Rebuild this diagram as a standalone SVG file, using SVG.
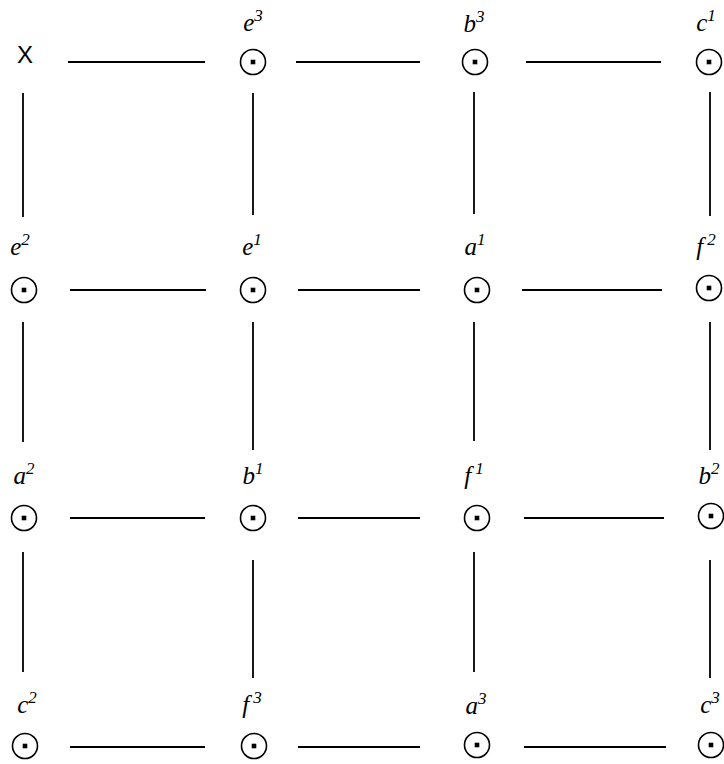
<svg xmlns="http://www.w3.org/2000/svg" width="724" height="764" viewBox="0 0 724 764">
<style>
.c{fill:none;stroke:#000;stroke-width:1.6}
.d{fill:#000}
.l{font-family:'Liberation Serif', 'Times New Roman', 'DejaVu Serif', serif;font-style:italic;font-size:25px;fill:#000;text-anchor:middle}
.s{font-size:17px}
.e{stroke:#000;stroke-width:1.8;fill:none}
.x{font-family:'Liberation Sans', Arial, sans-serif;font-size:24px;fill:#000;text-anchor:middle}
</style>
<defs>
<g id="sym"><circle class="c" r="12.5"/><rect class="d" x="-2.3" y="-2.3" width="4.6" height="4.6"/></g>
</defs>
<rect width="724" height="764" fill="#fff"/>
<g id="connectors">
<path class="e" d="M68 62H205M296 62H420M526 62H661M70 290H206M298 290H420M522 290H662M70 518H205M298 518H420M524 518H664M70 747H205M298 747H420M524 747H666"/>
<path class="e" d="M23 93V217M253 93V215M474 92V214M710 92V216M23 322V442M253 322V450M474 322V441M710 322V450M23 552V672M253 560V678M474 552V672M710 560V678"/>
</g>
<g id="nX"><text class="x" x="25" y="63">X</text></g>
<g id="n-e3"><use href="#sym" x="253" y="62"/><text class="l" x="253" y="31">e<tspan class="s" dy="-10">3</tspan></text></g>
<g id="n-b3"><use href="#sym" x="475" y="62"/><text class="l" x="474" y="32">b<tspan class="s" dy="-10">3</tspan></text></g>
<g id="n-c1"><use href="#sym" x="709" y="62"/><text class="l" x="706" y="31">c<tspan class="s" dy="-10">1</tspan></text></g>
<g id="n-e2"><use href="#sym" x="24" y="290"/><text class="l" x="20" y="255">e<tspan class="s" dy="-10">2</tspan></text></g>
<g id="n-e1"><use href="#sym" x="253" y="290"/><text class="l" x="252" y="255">e<tspan class="s" dy="-10">1</tspan></text></g>
<g id="n-a1"><use href="#sym" x="477" y="290"/><text class="l" x="475" y="255">a<tspan class="s" dy="-10">1</tspan></text></g>
<g id="n-f2"><use href="#sym" x="709" y="288"/><text class="l" x="706" y="255">f<tspan class="s" dx="4" dy="-10">2</tspan></text></g>
<g id="n-a2"><use href="#sym" x="24" y="518"/><text class="l" x="24" y="484">a<tspan class="s" dy="-10">2</tspan></text></g>
<g id="n-b1"><use href="#sym" x="253" y="518"/><text class="l" x="253" y="484">b<tspan class="s" dy="-10">1</tspan></text></g>
<g id="n-f1"><use href="#sym" x="477" y="518"/><text class="l" x="474" y="484">f<tspan class="s" dx="4" dy="-10">1</tspan></text></g>
<g id="n-b2"><use href="#sym" x="711" y="516"/><text class="l" x="709" y="484">b<tspan class="s" dy="-10">2</tspan></text></g>
<g id="n-c2"><use href="#sym" x="25" y="746"/><text class="l" x="27" y="713">c<tspan class="s" dy="-10">2</tspan></text></g>
<g id="n-f3"><use href="#sym" x="254" y="746"/><text class="l" x="252" y="713">f<tspan class="s" dx="4" dy="-10">3</tspan></text></g>
<g id="n-a3"><use href="#sym" x="477" y="745"/><text class="l" x="476" y="714">a<tspan class="s" dy="-10">3</tspan></text></g>
<g id="n-c3"><use href="#sym" x="711" y="745"/><text class="l" x="710" y="713">c<tspan class="s" dy="-10">3</tspan></text></g>
</svg>
